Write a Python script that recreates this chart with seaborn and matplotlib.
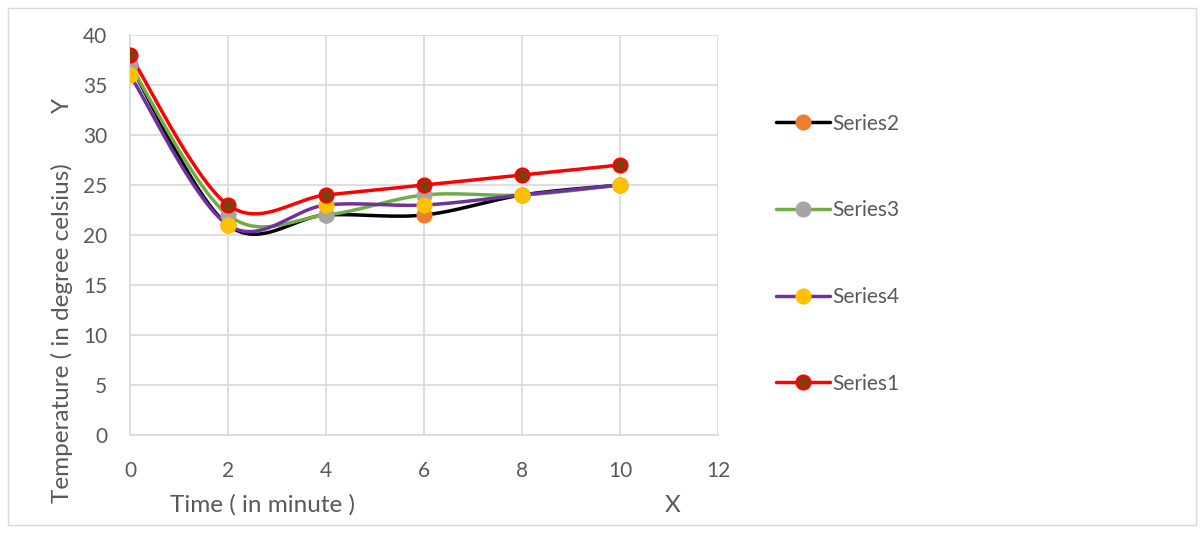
import numpy as np
import pandas as pd
import matplotlib
matplotlib.use("Agg")
import matplotlib.pyplot as plt
from matplotlib.lines import Line2D
from matplotlib.patches import Rectangle
import seaborn as sns

# Time (minutes) and temperature readings per series
time_min = [0, 2, 4, 6, 8, 10]
series1 = [38, 23, 24, 25, 26, 27]
series2 = [37, 21, 22, 22, 24, 25]
series3 = [37, 22, 22, 24, 24, 25]
series4 = [36, 21, 23, 23, 24, 25]

x_ticks = [0, 2, 4, 6, 8, 10, 12]
y_ticks = [0, 5, 10, 15, 20, 25, 30, 35, 40]

styles = {
    "Series2": dict(y=series2, line="#000000", face="#ED7D31", edge="#ED7D31"),
    "Series3": dict(y=series3, line="#70AD47", face="#A5A5A5", edge="#A5A5A5"),
    "Series4": dict(y=series4, line="#7030A0", face="#FFC000", edge="#FFC000"),
    "Series1": dict(y=series1, line="#FF0000", face="#843C0C", edge="#FF0000"),
}

TEXT = "#595959"
GRID = "#D9D9D9"


def smooth(xs, ys, n=40):
    """Catmull-Rom style cubic Bezier smoothing through every point."""
    pts = np.column_stack([xs, ys]).astype(float)
    ext = np.vstack([pts[0], pts, pts[-1]])
    out = []
    t = np.linspace(0, 1, n)[:, None]
    for i in range(1, len(ext) - 2):
        p0, p1, p2, p3 = ext[i - 1], ext[i], ext[i + 1], ext[i + 2]
        c1 = p1 + (p2 - p0) / 6.0
        c2 = p2 - (p3 - p1) / 6.0
        seg = ((1 - t) ** 3) * p1 + 3 * ((1 - t) ** 2) * t * c1 + 3 * (1 - t) * t ** 2 * c2 + t ** 3 * p2
        out.append(seg if i == 1 else seg[1:])
    arr = np.vstack(out)
    return arr[:, 0], arr[:, 1]


sns.set_theme(style="white")
plt.rcParams["font.family"] = ["Lato", "DejaVu Sans"]

fig = plt.figure(figsize=(12.04, 5.33), dpi=100)
ax = fig.add_axes([130 / 1204, 1 - 435 / 533, (718 - 130) / 1204, (435 - 35) / 533])

# outer chart border
fig.patches.append(Rectangle((8 / 1204, 8 / 533), (1196 - 8) / 1204, (525 - 8) / 533,
                             transform=fig.transFigure, fill=False, edgecolor=GRID, lw=1))

handles = []
for name, st in styles.items():
    sx, sy = smooth(time_min, st["y"])
    curve = pd.DataFrame({"t": sx, "v": sy})
    sns.lineplot(data=curve, x="t", y="v", sort=False, color=st["line"], lw=2.5, ax=ax, zorder=3)
    pts = pd.DataFrame({"t": time_min, "v": st["y"]})
    ax.scatter(pts["t"], pts["v"], s=100, facecolor=st["face"], edgecolor=st["edge"],
               linewidths=1.6, zorder=4)
    handles.append(Line2D([0], [0], color=st["line"], lw=2.5, marker="o", markersize=10,
                          markerfacecolor=st["face"], markeredgecolor=st["edge"], markeredgewidth=1.6))

ax.set_xlim(0, 12)
ax.set_ylim(0, 40)
ax.set_xticks(x_ticks)
ax.set_yticks(y_ticks)
ax.grid(True, color=GRID, lw=1.2)
ax.set_axisbelow(True)
for s in ["top", "right"]:
    ax.spines[s].set_visible(False)
for s in ["left", "bottom"]:
    ax.spines[s].set_color(GRID)
    ax.spines[s].set_linewidth(1.2)
ax.tick_params(axis="both", length=0, labelsize=15, labelcolor=TEXT)
ax.tick_params(axis="y", pad=16.5)
ax.tick_params(axis="x", pad=19)
ax.set_xlabel("")
ax.set_ylabel("")

fig.text(62 / 1204, 1 - 333 / 533, "Temperature ( in degree celsius)", rotation=90,
         ha="center", va="center", fontsize=17.5, color=TEXT)
fig.text(62 / 1204, 1 - 105 / 533, "Y", rotation=90, ha="center", va="center", fontsize=17.5, color=TEXT)
fig.text(263 / 1204, 1 - 505 / 533, "Time ( in minute )", ha="center", va="center", fontsize=17.5, color=TEXT)
fig.text(673 / 1204, 1 - 505 / 533, "X", ha="center", va="center", fontsize=17.5, color=TEXT)

leg = fig.legend(handles, list(styles.keys()), loc="upper left",
                 bbox_to_anchor=(757 / 1204, 1 - 95 / 533), frameon=False,
                 fontsize=15, handlelength=2.6, handletextpad=0.12, labelspacing=3.2,
                 labelcolor=TEXT)

fig.savefig("out.png", dpi=100)
